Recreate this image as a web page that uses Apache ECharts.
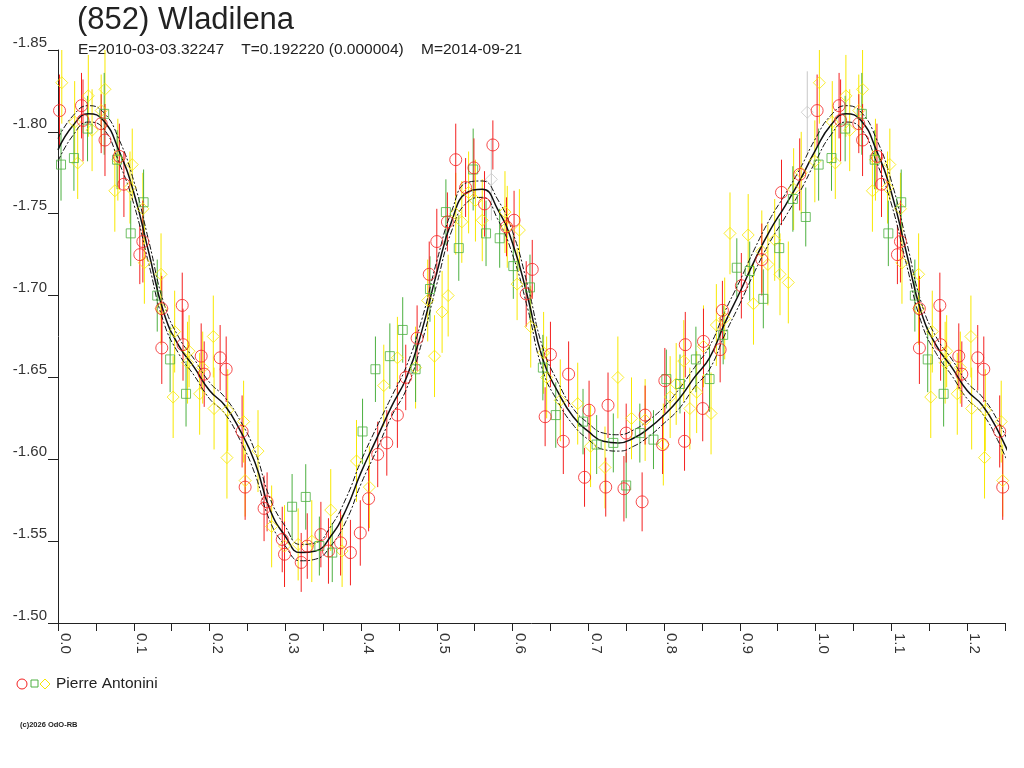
<!DOCTYPE html>
<html>
<head>
<meta charset="utf-8">
<title>(852) Wladilena</title>
<script src="https://cdn.jsdelivr.net/npm/echarts@6/dist/echarts.min.js"></script>
<style>
html, body { margin: 0; padding: 0; background: #fff; }
#chart { width: 1024px; height: 768px; }
</style>
</head>
<body>
<div id="chart"></div>
<script>
// observations: [phase, reduced mag, error]
var redPoints = [
	[0.002,-1.813,0.022],[0.031,-1.816,0.020],[0.033,-1.807,0.025],[0.057,-1.805,0.018],
	[0.062,-1.795,0.022],[0.081,-1.785,0.020],[0.087,-1.768,0.020],[0.108,-1.725,0.018],
	[0.112,-1.733,0.025],[0.137,-1.692,0.020],[0.137,-1.668,0.022],[0.164,-1.694,0.020],
	[0.165,-1.670,0.022],[0.189,-1.663,0.020],[0.193,-1.652,0.020],[0.214,-1.662,0.020],
	[0.222,-1.655,0.020],[0.243,-1.617,0.022],[0.247,-1.583,0.020],[0.272,-1.570,0.020],
	[0.276,-1.574,0.018],[0.296,-1.551,0.020],[0.299,-1.542,0.020],[0.321,-1.537,0.018],
	[0.329,-1.547,0.020],[0.347,-1.554,0.020],[0.357,-1.544,0.020],[0.373,-1.549,0.020],
	[0.386,-1.543,0.020],[0.399,-1.555,0.020],[0.410,-1.576,0.020],[0.422,-1.603,0.020],
	[0.434,-1.610,0.020],[0.448,-1.627,0.020],[0.459,-1.650,0.020],[0.474,-1.674,0.020],
	[0.490,-1.713,0.020],[0.500,-1.733,0.020],[0.514,-1.745,0.018],[0.525,-1.783,0.022],
	[0.538,-1.766,0.018],[0.549,-1.778,0.018],[0.563,-1.756,0.020],[0.574,-1.792,0.015],
	[0.592,-1.742,0.018],[0.602,-1.746,0.018],[0.618,-1.701,0.020],[0.626,-1.716,0.018],
	[0.643,-1.626,0.018],[0.650,-1.664,0.020],[0.667,-1.611,0.020],[0.674,-1.652,0.020],
	[0.695,-1.589,0.018],[0.701,-1.630,0.018],[0.723,-1.583,0.018],[0.726,-1.633,0.020],
	[0.747,-1.582,0.020],[0.750,-1.616,0.018],[0.771,-1.574,0.018],[0.775,-1.627,0.018],
	[0.798,-1.609,0.018],[0.801,-1.648,0.020],[0.827,-1.611,0.018],[0.828,-1.670,0.020],
	[0.851,-1.631,0.020],[0.852,-1.672,0.020],[0.874,-1.667,0.020],[0.877,-1.691,0.018],
	[0.902,-1.706,0.020],[0.929,-1.722,0.022],[0.955,-1.763,0.020],[0.979,-1.774,0.022]
];
var greenPoints = [
	[0.004,-1.780,0.022],[0.021,-1.784,0.020],[0.039,-1.802,0.020],[0.061,-1.811,0.025],
	[0.078,-1.783,0.018],[0.096,-1.738,0.020],[0.113,-1.757,0.020],[0.131,-1.700,0.022],
	[0.148,-1.661,0.020],[0.169,-1.640,0.020],[0.309,-1.571,0.020],[0.327,-1.577,0.020],
	[0.345,-1.547,0.018],[0.362,-1.543,0.018],[0.402,-1.617,0.020],[0.419,-1.655,0.020],
	[0.438,-1.663,0.020],[0.455,-1.679,0.020],[0.472,-1.655,0.020],[0.491,-1.704,0.020],
	[0.512,-1.751,0.020],[0.529,-1.729,0.020],[0.548,-1.777,0.025],[0.565,-1.738,0.020],
	[0.583,-1.735,0.018],[0.601,-1.718,0.020],[0.623,-1.705,0.020],[0.640,-1.656,0.020],
	[0.657,-1.627,0.020],[0.693,-1.623,0.020],[0.711,-1.609,0.018],[0.733,-1.610,0.018],
	[0.750,-1.584,0.020],[0.768,-1.616,0.018],[0.786,-1.612,0.018],[0.803,-1.649,0.018],
	[0.821,-1.646,0.018],[0.842,-1.661,0.020],[0.860,-1.649,0.020],[0.878,-1.676,0.018],
	[0.896,-1.717,0.018],[0.913,-1.715,0.018],[0.931,-1.698,0.018],[0.952,-1.729,0.018],
	[0.970,-1.759,0.020],[0.987,-1.748,0.018]
];
var yellowPoints = [
	[0.005,-1.830,0.025],[0.022,-1.806,0.025],[0.026,-1.781,0.022],[0.040,-1.822,0.025],
	[0.045,-1.801,0.025],[0.057,-1.813,0.022],[0.062,-1.826,0.025],[0.075,-1.764,0.025],
	[0.079,-1.783,0.025],[0.095,-1.766,0.022],[0.098,-1.780,0.022],[0.112,-1.753,0.022],
	[0.114,-1.720,0.025],[0.136,-1.713,0.025],[0.136,-1.692,0.022],[0.152,-1.638,0.025],
	[0.154,-1.678,0.025],[0.171,-1.659,0.025],[0.173,-1.666,0.022],[0.187,-1.640,0.025],
	[0.191,-1.656,0.022],[0.205,-1.675,0.025],[0.206,-1.631,0.025],[0.223,-1.601,0.025],
	[0.224,-1.630,0.025],[0.245,-1.623,0.025],[0.247,-1.587,0.022],[0.264,-1.605,0.025],
	[0.282,-1.559,0.025],[0.299,-1.547,0.025],[0.317,-1.548,0.022],[0.335,-1.550,0.025],
	[0.360,-1.569,0.025],[0.375,-1.544,0.022],[0.394,-1.599,0.025],[0.411,-1.583,0.025],
	[0.430,-1.645,0.025],[0.448,-1.662,0.025],[0.472,-1.656,0.025],[0.488,-1.697,0.025],
	[0.497,-1.663,0.025],[0.507,-1.690,0.025],[0.515,-1.700,0.025],[0.525,-1.750,0.025],
	[0.533,-1.745,0.025],[0.542,-1.763,0.025],[0.551,-1.758,0.025],[0.560,-1.746,0.025],
	[0.590,-1.751,0.025],[0.593,-1.742,0.025],[0.606,-1.707,0.022],[0.609,-1.740,0.025],
	[0.624,-1.681,0.025],[0.641,-1.665,0.025],[0.645,-1.650,0.025],[0.663,-1.636,0.025],
	[0.686,-1.634,0.025],[0.703,-1.608,0.025],[0.722,-1.595,0.025],[0.739,-1.650,0.025],
	[0.757,-1.625,0.025],[0.775,-1.624,0.025],[0.799,-1.609,0.025],[0.808,-1.638,0.025],
	[0.816,-1.646,0.025],[0.826,-1.660,0.025],[0.834,-1.631,0.025],[0.843,-1.641,0.025],
	[0.852,-1.669,0.025],[0.862,-1.628,0.025],[0.869,-1.682,0.025],[0.880,-1.686,0.025],
	[0.887,-1.738,0.025],[0.911,-1.737,0.025],[0.918,-1.695,0.025],[0.929,-1.727,0.025],
	[0.937,-1.719,0.025],[0.946,-1.734,0.025],[0.953,-1.713,0.025],[0.964,-1.708,0.025],
	[0.971,-1.765,0.025],[0.981,-1.775,0.025],[0.999,-1.782,0.025]
];
var greyPoints = [
	[0.572,-1.771,0.025],[0.989,-1.812,0.025]
];

// fitted lightcurve and its uncertainty band
var fitPhase = [0.00,0.02,0.04,0.06,0.08,0.10,0.12,0.14,0.16,0.18,0.20,0.22,0.24,0.26,0.28,0.30,0.32,
	0.34,0.36,0.38,0.40,0.42,0.44,0.46,0.48,0.50,0.52,0.54,0.56,0.58,0.60,0.62,0.64,0.66,0.68,
	0.70,0.72,0.74,0.76,0.78,0.80,0.82,0.84,0.86,0.88,0.90,0.92,0.94,0.96,0.98,1.00];
var fitMag = [-1.789,-1.804,-1.811,-1.807,-1.789,-1.763,-1.726,-1.689,-1.669,-1.656,-1.642,-1.633,
	-1.618,-1.598,-1.569,-1.553,-1.543,-1.544,-1.553,-1.569,-1.592,-1.612,-1.632,-1.650,-1.678,
	-1.714,-1.746,-1.763,-1.765,-1.753,-1.732,-1.699,-1.661,-1.641,-1.626,-1.617,-1.611,-1.610,
	-1.613,-1.619,-1.627,-1.637,-1.650,-1.662,-1.683,-1.702,-1.722,-1.740,-1.755,-1.771,-1.789];
var fitUpper = [-1.796,-1.810,-1.816,-1.812,-1.796,-1.770,-1.733,-1.695,-1.674,-1.661,-1.647,-1.638,
	-1.624,-1.605,-1.576,-1.559,-1.548,-1.549,-1.559,-1.576,-1.599,-1.619,-1.638,-1.657,-1.685,
	-1.721,-1.752,-1.769,-1.770,-1.759,-1.739,-1.706,-1.668,-1.647,-1.631,-1.622,-1.616,-1.615,
	-1.618,-1.624,-1.632,-1.643,-1.656,-1.669,-1.690,-1.709,-1.729,-1.747,-1.762,-1.778,-1.796];
var fitLower = [-1.782,-1.798,-1.806,-1.802,-1.782,-1.756,-1.719,-1.683,-1.664,-1.651,-1.637,-1.628,
	-1.612,-1.591,-1.562,-1.547,-1.538,-1.539,-1.547,-1.562,-1.585,-1.605,-1.626,-1.643,-1.671,
	-1.707,-1.740,-1.757,-1.760,-1.747,-1.725,-1.692,-1.654,-1.635,-1.621,-1.612,-1.606,-1.605,
	-1.608,-1.614,-1.622,-1.631,-1.644,-1.655,-1.676,-1.695,-1.715,-1.733,-1.748,-1.764,-1.782];

var PHASE_MAX = 1.25;
var FONT = "'Liberation Sans', Arial, sans-serif";

// the plot shows a quarter of a cycle twice: copy phase 0..0.25 to 1..1.25
function wrap(points) {
	var out = points.slice();
	for (var i = 0; i < points.length; i++) {
		if (points[i][0] <= PHASE_MAX - 1) {
			out.push([points[i][0] + 1, points[i][1], points[i][2]]);
		}
	}
	return out;
}

function curve(mags) {
	var out = [];
	for (var i = 0; i < fitPhase.length; i++) out.push([fitPhase[i], mags[i]]);
	for (var j = 1; j < fitPhase.length && fitPhase[j] <= PHASE_MAX - 1 + 0.02; j++) {
		out.push([fitPhase[j] + 1, mags[j]]);
	}
	return out;
}

function errorBars(points, color) {
	return {
		type: 'custom',
		silent: true,
		clip: true,
		z: 1,
		renderItem: function (params, api) {
			var x = api.value(0), y = api.value(1), e = api.value(2);
			var a = api.coord([x, y - e]);
			var b = api.coord([x, y + e]);
			return {
				type: 'line',
				shape: { x1: a[0], y1: a[1], x2: b[0], y2: b[1] },
				style: { stroke: color, lineWidth: 1 }
			};
		},
		data: wrap(points)
	};
}

function markers(points, symbol, size, color) {
	return {
		type: 'scatter',
		symbol: symbol,
		symbolSize: size,
		silent: true,
		z: 3,
		itemStyle: { color: 'rgba(0,0,0,0)', borderColor: color, borderWidth: 1 },
		data: wrap(points)
	};
}

function fitLine(mags, type, width) {
	return {
		type: 'line',
		smooth: true,
		symbol: 'none',
		silent: true,
		clip: true,
		z: 2,
		lineStyle: { color: '#111', width: width, type: type },
		data: curve(mags)
	};
}

var colRed = '#f42020', colGreen = '#4cb040', colYellow = '#f8e800', colGrey = '#c8c8c8';

var option = {
	animation: false,
	backgroundColor: '#fff',
	textStyle: { fontFamily: FONT },
	grid: { left: 58, right: 19, top: 50, bottom: 145 },
	xAxis: {
		type: 'value',
		min: 0,
		max: PHASE_MAX,
		interval: 0.05,
		splitLine: { show: false },
		axisLine: { lineStyle: { color: '#222', width: 1 } },
		axisTick: { length: 8, lineStyle: { color: '#222' } },
		axisLabel: {
			rotate: -90,
			margin: 10,
			color: '#333',
			fontSize: 15,
			fontFamily: FONT,
			verticalAlign: 'bottom',
			showMaxLabel: true,
			formatter: function (v) {
				return Math.round(v * 100) % 10 === 0 ? v.toFixed(1) : '';
			}
		}
	},
	yAxis: {
		type: 'value',
		min: -1.85,
		max: -1.50,
		interval: 0.05,
		inverse: true,
		splitLine: { show: false },
		axisLine: { show: true, lineStyle: { color: '#222', width: 1 } },
		axisTick: { show: true, length: 10, lineStyle: { color: '#222' } },
		axisLabel: {
			margin: 11,
			color: '#333',
			fontSize: 15,
			fontFamily: FONT,
			verticalAlign: 'bottom',
			formatter: function (v) { return v.toFixed(2); }
		}
	},
	graphic: [
		{ type: 'text', left: 77, top: 5, style: { text: '(852) Wladilena', font: '31px ' + FONT, fill: '#222' } },
		{ type: 'text', left: 78, top: 42, style: { text: 'E=2010-03-03.32247    T=0.192220 (0.000004)    M=2014-09-21', font: '15.5px ' + FONT, fill: '#222' } },
		{ type: 'circle', shape: { cx: 22, cy: 684, r: 5 }, style: { fill: 'none', stroke: colRed, lineWidth: 1 } },
		{ type: 'rect', shape: { x: 31, y: 680, width: 7, height: 7 }, style: { fill: 'none', stroke: colGreen, lineWidth: 1 } },
		{ type: 'polygon', shape: { points: [[45, 679], [50, 684], [45, 689], [40, 684]] }, style: { fill: 'none', stroke: colYellow, lineWidth: 1 } },
		{ type: 'text', left: 56, top: 676, style: { text: 'Pierre Antonini', font: '15.5px ' + FONT, fill: '#222' } },
		{ type: 'text', left: 20, top: 721, style: { text: '(c)2026 OdO-RB', font: 'bold 7.5px ' + FONT, fill: '#222' } }
	],
	series: [
		errorBars(greyPoints, colGrey),
		errorBars(yellowPoints, colYellow),
		errorBars(greenPoints, colGreen),
		errorBars(redPoints, colRed),
		fitLine(fitMag, 'solid', 1.5),
		fitLine(fitUpper, [6, 2, 2, 2], 1),
		fitLine(fitLower, [6, 2, 2, 2], 1),
		markers(greyPoints, 'diamond', 12, colGrey),
		markers(yellowPoints, 'diamond', 12, colYellow),
		markers(greenPoints, 'rect', 9, colGreen),
		markers(redPoints, 'circle', 12, colRed)
	]
};

var myChart = echarts.init(document.getElementById('chart'));
myChart.setOption(option);
</script>
</body>
</html>
